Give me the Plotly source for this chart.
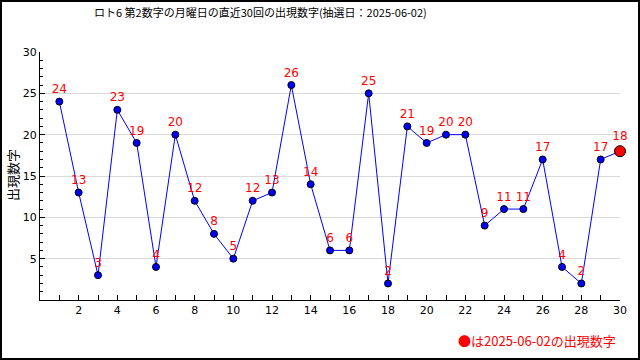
import plotly.graph_objects as go

draws = list(range(1, 31))
values = [24, 13, 3, 23, 19, 4, 20, 12, 8, 5, 12, 13, 26, 14, 6, 6, 25, 2, 21, 19,
          20, 20, 9, 11, 11, 17, 4, 2, 17, 18]
x_tick_vals = list(range(2, 31, 2))
y_tick_vals = [5, 10, 15, 20, 25, 30]
title_text = "ロト6 第2数字の月曜日の直近30回の出現数字(抽選日：2025-06-02)"
legend_text = "●は2025-06-02の出現数字"
y_title = "出現数字"

L, R, T, B = 40, 20, 52, 60
W, H = 640, 360
pw, ph = W - L - R, H - T - B

fig = go.Figure()
fig.add_trace(go.Scatter(
    x=draws, y=values,
    mode="lines", line=dict(color="#0000ff", width=1), hoverinfo="skip"))
fig.add_trace(go.Scatter(
    x=draws[:-1], y=values[:-1], mode="markers+text",
    marker=dict(color="#0000ff", size=7, line=dict(color="black", width=1)),
    text=[str(v) for v in values[:-1]], textposition="top center",
    textfont=dict(color="red", size=12, family="DejaVu Sans")))
fig.add_trace(go.Scatter(
    x=draws[-1:], y=values[-1:], mode="markers+text",
    marker=dict(color="red", size=11, line=dict(color="black", width=1)),
    text=[str(values[-1])], textposition="top center",
    textfont=dict(color="red", size=12, family="DejaVu Sans")))

fig.update_layout(
    width=W, height=H, margin=dict(l=L, r=R, t=T, b=B),
    paper_bgcolor="white", plot_bgcolor="white", showlegend=False,
    font=dict(family="DejaVu Sans", size=11, color="black"),
    xaxis=dict(range=[0, 30], tickvals=x_tick_vals, ticks="inside", ticklen=5,
               tickcolor="black", showgrid=False, zeroline=False,
               showline=True, linecolor="black", linewidth=1,
               minor=dict(dtick=1, tick0=0, ticks="inside", ticklen=5, tickcolor="black"),
               tickfont=dict(size=11)),
    yaxis=dict(range=[0, 30], tickvals=y_tick_vals, ticks="inside", ticklen=5,
               tickcolor="black", showgrid=True, gridcolor="#d9d9d9", zeroline=False,
               showline=True, linecolor="black", linewidth=1,
               minor=dict(dtick=1, tick0=0, ticks="inside", ticklen=3, tickcolor="black"),
               tickfont=dict(size=11)),
)
fig.update_traces(cliponaxis=False)

fig.add_annotation(text=title_text, xref="paper", yref="paper",
                   x=(260 - L) / pw, y=(H - B - 12) / ph, xanchor="center", yanchor="middle",
                   showarrow=False, font=dict(family="Noto Sans CJK JP", size=11, color="black"))
fig.add_annotation(text=y_title, xref="paper", yref="paper",
                   x=(12 - L) / pw, y=(H - B - 175) / ph, xanchor="center", yanchor="middle",
                   textangle=-90, showarrow=False,
                   font=dict(family="Noto Sans CJK JP", size=13, color="black"))
fig.add_annotation(text=legend_text, xref="paper", yref="paper",
                   x=(618 - L) / pw, y=-(340 - (H - B)) / ph, xanchor="right", yanchor="middle",
                   showarrow=False, font=dict(family="Noto Sans CJK JP", size=13, color="red"))
fig.add_shape(type="rect", xref="paper", yref="paper",
              x0=-(L - 1) / pw, x1=1 + (R - 1) / pw, y0=-(B - 1) / ph, y1=1 + (T - 1) / ph,
              line=dict(color="black", width=2))

fig.write_html("out.html", config={"displayModeBar": False},
               post_script="document.body.style.margin='0';")
